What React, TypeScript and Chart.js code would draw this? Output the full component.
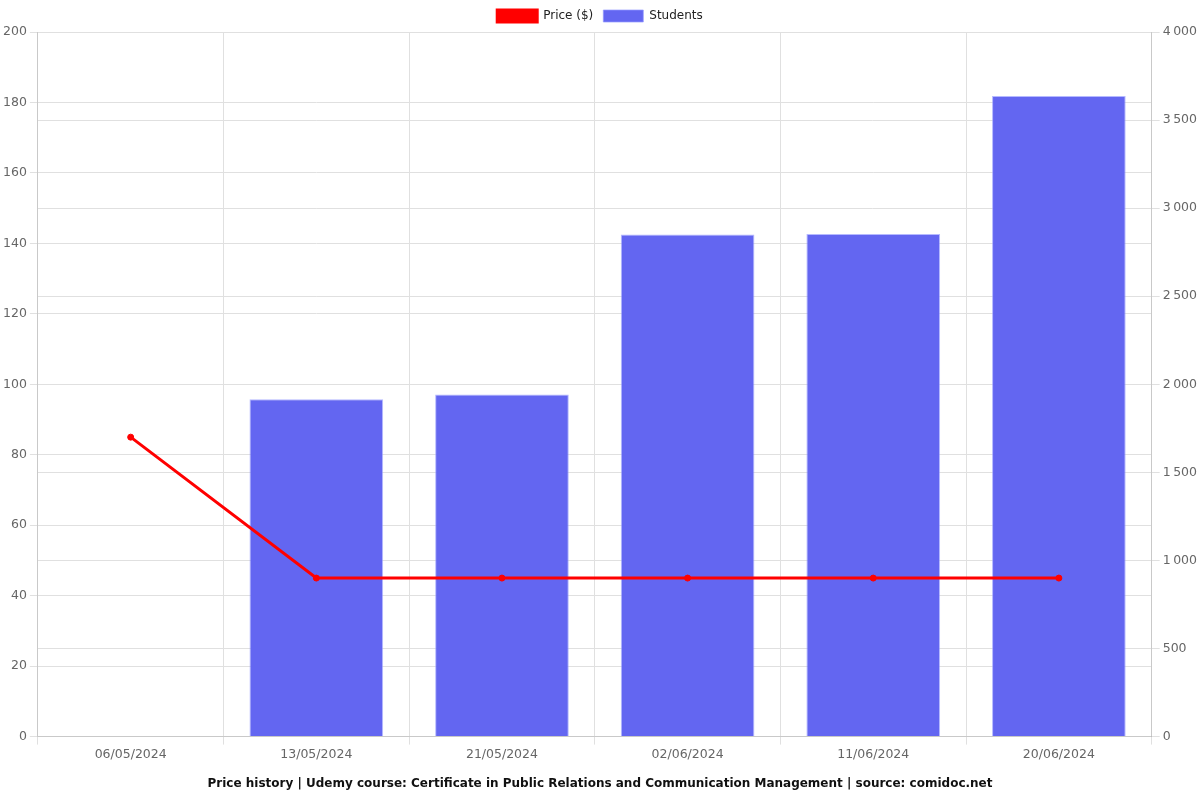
import React, { useEffect, useRef } from "react";
import { Chart, registerables } from "chart.js";

Chart.register(...registerables);

const labels = ["06/05/2024", "13/05/2024", "21/05/2024", "02/06/2024", "11/06/2024", "20/06/2024"];
const priceValues = [85, 45, 45, 45, 45, 45];
const studentValues = [0, 1915, 1942, 2850, 2853, 3637];
const titleText =
  "Price history | Udemy course: Certificate in Public Relations and Communication Management | source: comidoc.net";

export default function App() {
  const ref = useRef<HTMLCanvasElement>(null);
  useEffect(() => {
    document.body.style.margin = "0";
    Chart.defaults.font.family = "'DejaVu Sans', sans-serif";
    Chart.defaults.color = "#666";
    const chart = new Chart(ref.current!, {
      data: {
        labels,
        datasets: [
          {
            type: "line",
            label: "Price ($)",
            data: priceValues,
            borderColor: "#ff0000",
            backgroundColor: "#ff0000",
            borderWidth: 3,
            pointRadius: 3,
            pointBorderWidth: 1,
            pointBackgroundColor: "#ff0000",
            yAxisID: "y",
            order: 0,
          },
          {
            type: "bar",
            label: "Students",
            data: studentValues,
            backgroundColor: "#6366f1",
            borderColor: "rgba(150,155,255,0.7)",
            borderWidth: 1,
            yAxisID: "y1",
            order: 1,
          },
        ],
      },
      options: {
        animation: false,
        responsive: false,
        maintainAspectRatio: false,
        plugins: {
          legend: {
            position: "top",
            labels: { boxWidth: 40, boxHeight: 12, font: { size: 12 }, color: "#222" },
          },
          title: {
            display: true,
            text: titleText,
            position: "bottom",
            font: { size: 12, weight: "bold" },
            color: "#111",
            padding: { top: 11, bottom: 9 },
          },
        },
        scales: {
          x: {
            grid: { color: "#e0e0e0" },
            ticks: { font: { size: 12.5 } },
          },
          y: {
            position: "left",
            min: 0,
            max: 200,
            ticks: { stepSize: 20, font: { size: 12.5 } },
            grid: { color: "#e0e0e0" },
          },
          y1: {
            position: "right",
            min: 0,
            max: 4000,
            ticks: {
              stepSize: 500,
              font: { size: 12.5 },
              callback: (v: any) => Number(v).toLocaleString("fr-FR"),
            },
            grid: { color: "#e0e0e0" },
          },
        },
      },
    });
    return () => chart.destroy();
  }, []);
  return <canvas ref={ref} width={1200} height={800} style={{ display: "block" }} />;
}
